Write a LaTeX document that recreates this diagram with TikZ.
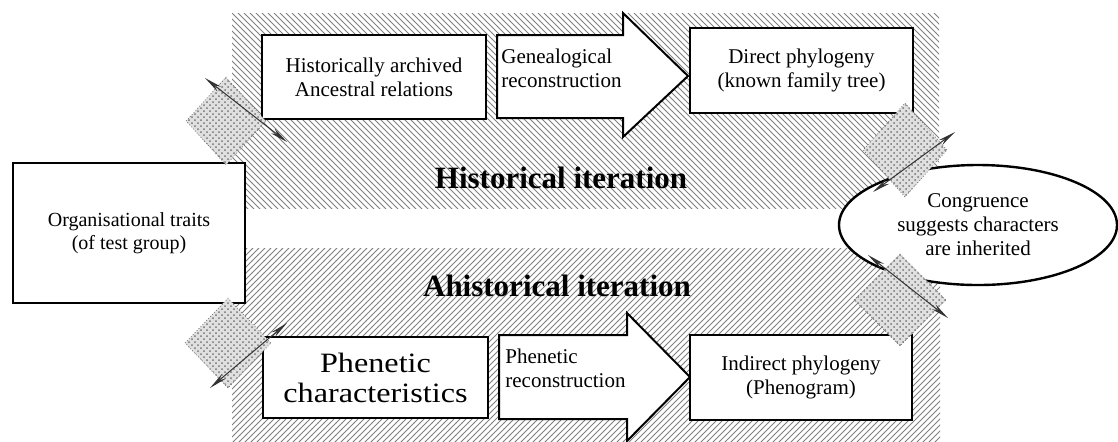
\documentclass[tikz,border=0pt]{standalone}
\usepackage{fontspec}
\setmainfont{Liberation Serif}
\newfontfamily\widefont[FakeStretch=1.15]{Liberation Serif}
\usetikzlibrary{patterns,shapes.geometric,arrows.meta}
\tikzset{
    box/.style={draw, line width=1pt, fill=white},
    boxtext/.style={align=center, font=\fontsize{10.5}{12}\selectfont},
    steptext/.style={align=left, anchor=north west, inner sep=0pt, font=\fontsize{10.5}{12}\selectfont},
    title/.style={anchor=base, inner sep=0pt, font=\fontsize{15.5}{18}\selectfont\bfseries},
    linker/.style={diamond, inner sep=0pt, draw=black!55, densely dotted, preaction={fill=black!12}, pattern=crosshatch dots, pattern color=black!55},
    spike/.style={{Stealth[length=9pt,width=3pt]}-{Stealth[length=9pt,width=3pt]}, line width=0.5pt, draw=black!80}
}
\begin{document}
\begin{tikzpicture}[x=0.5pt, y=-0.5pt]
        \useasboundingbox (0,0) rectangle (1118,441);
        \fill [pattern=north west lines, pattern color=black!50] (232,13) rectangle (939,208);
        \fill [pattern=north east lines, pattern color=black!50] (232,248) rectangle (940,441);
        \draw [box] (13,163) rectangle (245,303)
            node [midway, boxtext, font=\fontsize{10}{11.5}\selectfont] (org) {Organisational traits\\(of test group)};
        \draw [box] (262,35) rectangle (486,119)
            node [midway, boxtext] (hist) {Historically archived\\Ancestral relations};
        \draw [box] (497,35) -- (623,35) -- (623,13) -- (688,76) -- (623,137) -- (623,118) -- (497,118) -- cycle;
        \node [steptext] (geneal) at (501,49) {Genealogical\\reconstruction};
        \draw [box] (690,28) rectangle (913,113)
            node [midway, boxtext] (direct) {Direct phylogeny\\(known family tree)};
        \draw [box] (263,337) rectangle (488,418)
            node [midway, align=center, font=\widefont\fontsize{14}{15}\selectfont] (phen) {Phenetic\\characteristics};
        \draw [box] (499,335) -- (627,335) -- (627,313) -- (690,377) -- (627,441) -- (627,419) -- (499,419) -- cycle;
        \node [steptext] (phenrec) at (505,349) {Phenetic\\reconstruction};
        \draw [box] (690,335) rectangle (912,420)
            node [midway, boxtext] (indirect) {Indirect phylogeny\\(Phenogram)};
        \node [title] (histtitle) at (561,188) {Historical iteration};
        \node [title] (ahisttitle) at (557,296) {Ahistorical iteration};
        \node [draw, ellipse, line width=1.2pt, fill=white, minimum width=139pt, minimum height=60pt, inner sep=0pt, boxtext] (congr) at (978,225) {Congruence\\suggests characters\\are inherited};
        \node [linker, minimum width=40pt, minimum height=44pt] (linkA) at (226,121) {};
        \node [linker, minimum width=43pt, minimum height=45pt] (linkB) at (228,343) {};
        \node [linker, minimum width=42pt, minimum height=47pt] (linkC) at (905,150) {};
        \node [linker, minimum width=46pt, minimum height=46pt] (linkD) at (900,300) {};
        \coordinate (tipA1) at (205,78);
        \coordinate (tipA2) at (287,142);
        \coordinate (tipB1) at (210,388);
        \coordinate (tipB2) at (287,323);
        \coordinate (tipC1) at (873,192);
        \coordinate (tipC2) at (955,132);
        \coordinate (tipD1) at (868,255);
        \coordinate (tipD2) at (948,318);
        \draw [spike] (tipA1) -- (tipA2);
        \draw [spike] (tipB1) -- (tipB2);
        \draw [spike] (tipC1) -- (tipC2);
        \draw [spike] (tipD1) -- (tipD2);
    \end{tikzpicture}
\end{document}
